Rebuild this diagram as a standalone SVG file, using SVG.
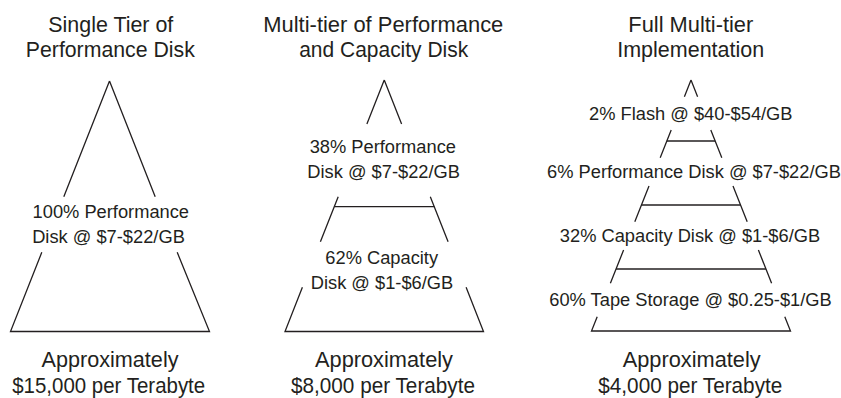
<svg xmlns="http://www.w3.org/2000/svg" width="841" height="398" viewBox="0 0 841 398">
<style>
  .bg { fill: #ffffff; }
  .ln { stroke: #231f20; stroke-width: 1.3; fill: none; stroke-linecap: butt; }
  .t { font-family: "Liberation Sans", Arial, sans-serif; fill: #231f20; text-anchor: middle; }
  .h { font-size: 22.5px; }
  .l { font-size: 18.3px; }
</style>
<rect class="bg" x="0" y="0" width="841" height="398"/>

<!-- Column 1: Single tier -->
<g id="single-tier">
  <g id="single-title">
    <text class="t h" x="110.8" y="31.7" textLength="125" lengthAdjust="spacingAndGlyphs">Single Tier of</text>
    <text class="t h" x="110.3" y="57.3" textLength="169" lengthAdjust="spacingAndGlyphs">Performance Disk</text>
  </g>
  <g id="single-pyramid">
    <path class="ln" d="M109.5,81 L63.8,196.7 M41.8,252.3 L10.5,331.5 L209.5,331.5 L177.2,252.3 M155.2,196.7 L109.5,81"/>
  </g>
  <g id="single-tier-performance">
    <text class="t l" x="110.8" y="218.3">100% Performance</text>
    <text class="t l" x="108.5" y="243.3">Disk @ $7-$22/GB</text>
  </g>
  <g id="single-cost">
    <text class="t h" x="110" y="367.3" textLength="137" lengthAdjust="spacingAndGlyphs">Approximately</text>
    <text class="t h" x="108.7" y="393" textLength="193" lengthAdjust="spacingAndGlyphs">$15,000 per Terabyte</text>
  </g>
</g>

<!-- Column 2: Performance + Capacity -->
<g id="two-tier">
  <g id="two-title">
    <text class="t h" x="383.3" y="31.7" textLength="240" lengthAdjust="spacingAndGlyphs">Multi-tier of Performance</text>
    <text class="t h" x="383.7" y="57.3" textLength="169" lengthAdjust="spacingAndGlyphs">and Capacity Disk</text>
  </g>
  <g id="two-pyramid">
    <path class="ln" d="M384.25,80 L366.9,124 M338.2,196.7 L320.4,241.7 M302.4,287.3 L285,331.5 L483.5,331.5 L466.1,287.3 M448.1,241.7 L430.3,196.7 M401.6,124 L384.25,80"/>
    <line class="ln" x1="334.25" y1="206.7" x2="434.25" y2="206.7"/>
  </g>
  <g id="two-tier-performance">
    <text class="t l" x="382.8" y="152.5">38% Performance</text>
    <text class="t l" x="383.7" y="177.8">Disk @ $7-$22/GB</text>
  </g>
  <g id="two-tier-capacity">
    <text class="t l" x="381.7" y="263.5">62% Capacity</text>
    <text class="t l" x="382" y="288.5">Disk @ $1-$6/GB</text>
  </g>
  <g id="two-cost">
    <text class="t h" x="384" y="367.3" textLength="138" lengthAdjust="spacingAndGlyphs">Approximately</text>
    <text class="t h" x="383" y="393" textLength="184" lengthAdjust="spacingAndGlyphs">$8,000 per Terabyte</text>
  </g>
</g>

<!-- Column 3: Full multi-tier -->
<g id="full-tier">
  <g id="full-title">
    <text class="t h" x="690.8" y="31.7" textLength="125" lengthAdjust="spacingAndGlyphs">Full Multi-tier</text>
    <text class="t h" x="690.7" y="57.3" textLength="147" lengthAdjust="spacingAndGlyphs">Implementation</text>
  </g>
  <g id="full-pyramid">
    <path class="ln" d="M691,80 L684.4,96.7 M671.2,130 L660.2,157.7 M649.0,186 L634.8,221.7 M623.6,250 L610.4,283.3 M597.2,316.7 L591.5,331 L790.5,331 L784.8,316.7 M771.6,283.3 L758.4,250 M747.2,221.7 L733.0,186 M721.8,157.7 L710.8,130 M697.6,96.7 L691,80"/>
    <line class="ln" x1="666.8" y1="141" x2="715.2" y2="141"/>
    <line class="ln" x1="641.4" y1="205" x2="740.6" y2="205"/>
    <line class="ln" x1="616.1" y1="269" x2="765.9" y2="269"/>
  </g>
  <g id="full-tier-flash">
    <text class="t l" x="690.8" y="120">2% Flash @ $40-$54/GB</text>
  </g>
  <g id="full-tier-performance">
    <text class="t l" x="694" y="178.3">6% Performance Disk @ $7-$22/GB</text>
  </g>
  <g id="full-tier-capacity">
    <text class="t l" x="690" y="242.3">32% Capacity Disk @ $1-$6/GB</text>
  </g>
  <g id="full-tier-tape">
    <text class="t l" x="690.5" y="306">60% Tape Storage @ $0.25-$1/GB</text>
  </g>
  <g id="full-cost">
    <text class="t h" x="691.7" y="367.3" textLength="138" lengthAdjust="spacingAndGlyphs">Approximately</text>
    <text class="t h" x="690.3" y="393" textLength="184" lengthAdjust="spacingAndGlyphs">$4,000 per Terabyte</text>
  </g>
</g>

<g id="connectors"/>
</svg>
